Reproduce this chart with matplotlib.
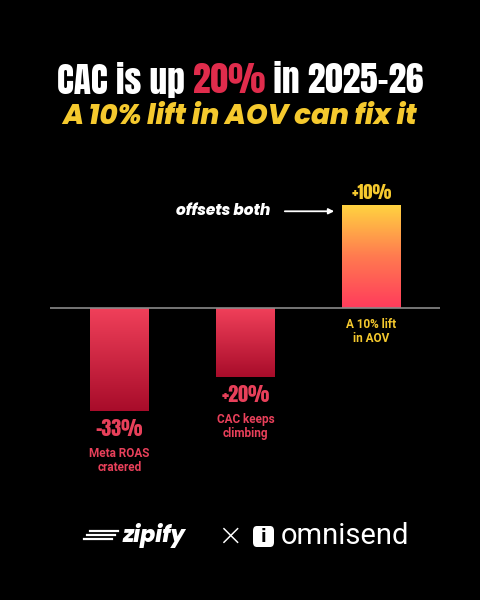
import numpy as np
import matplotlib
matplotlib.use("Agg")
import matplotlib.pyplot as plt
from matplotlib.patches import FancyBboxPatch
from matplotlib.colors import LinearSegmentedColormap
from matplotlib import font_manager
from matplotlib.font_manager import FontProperties

# ---- data ----
categories = ["Meta ROAS\ncratered", "CAC keeps\nclimbing", "A 10% lift\nin AOV"]
value_labels = ["-33%", "+20%", "+10%"]
bar_heights = [-33, -22, 33]   # drawn heights

BG = "black"
RED = "#E8405A"
YEL = "#F5C92E"

flist = font_manager.fontManager.ttflist
names = {f.name for f in flist}
def pick(*cands):
    for c in cands:
        if c in names:
            return c
    return "DejaVu Sans"

def heavy_italic(size):
    for cand in ["Montserrat", "Poppins", "Open Sans", "Lato", "Roboto"]:
        opts = [f for f in flist if f.name == cand and f.style == "italic"
                and (f.weight if isinstance(f.weight, int) else 400) >= 700]
        if opts:
            opts.sort(key=lambda f: abs((f.weight if isinstance(f.weight, int) else 400) - 800))
            return FontProperties(fname=opts[0].fname, size=size)
    return FontProperties(family="DejaVu Sans", weight="bold", style="italic", size=size)

cond = pick("Anton", "Oswald", "Bebas Neue", "Roboto Condensed", "DejaVu Sans")
body = pick("Roboto", "Inter")

fig = plt.figure(figsize=(4.8, 6), dpi=100, facecolor=BG)
ax = fig.add_axes([50/480, 1-480/600, 390/480, (480-170)/600])
ax.set_facecolor(BG)
x = np.arange(3) * 1.0
ppu = 3.12
XL = (-(119.5-50)/126, (440-119.5)/126)
YL = (-(480-308)/ppu, (308-170)/ppu)
for s in ax.spines.values():
    s.set_visible(False)
ax.set_xticks([]); ax.set_yticks([])

width = 0.468
cm_red = LinearSegmentedColormap.from_list("r", ["#A80C2A", "#F0405A"])
cm_up = LinearSegmentedColormap.from_list("u", ["#FF3B5C", "#FF7A50", "#FFD340"])
grads = [cm_red, cm_red, cm_up]
bars = ax.bar(x, bar_heights, width=width, color="none", edgecolor="none")
for b, cmap, h in zip(bars, grads, bar_heights):
    x0 = b.get_x(); w = b.get_width()
    y0, y1 = sorted([0, h])
    grad = np.linspace(0, 1, 256).reshape(-1, 1)
    im = ax.imshow(grad, extent=[x0, x0 + w, y0, y1], origin="lower",
                   cmap=cmap, aspect="auto", zorder=2)
    im.set_clip_path(b)
ax.set_xlim(*XL)
ax.set_ylim(*YL)

ax.axhline(0, color="#8a8a8a", lw=1.2, zorder=3)

lab_colors = [RED, RED, YEL]
for i, (h, vl, cat) in enumerate(zip(bar_heights, value_labels, categories)):
    c = lab_colors[i]
    if h < 0:
        ax.text(x[i], h - 2.6, vl, ha="center", va="top", color=c,
                fontsize=14.5, family=cond)
        ax.text(x[i], h - 11.5, cat, ha="center", va="top", color=c,
                fontsize=8.5, fontweight="bold", family=body, linespacing=1.1)
    else:
        ax.text(x[i], h + 1.3, vl, ha="center", va="bottom", color=c,
                fontsize=13, family=cond)
        ax.text(x[i], -3.3, cat, ha="center", va="top", color=c,
                fontsize=8.5, fontweight="bold", family=body, linespacing=1.1)

# annotation
ax.annotate("", xy=(x[2] - width/2 - 0.04, 31.0), xytext=(1.29, 31.0),
            arrowprops=dict(arrowstyle="-|>", color="white", lw=1.3,
                            mutation_scale=8), zorder=4)
ax.text(1.2, 31.0, "offsets both", ha="right", va="center", color="white",
        fontproperties=heavy_italic(11))

# title with colored middle segment
renderer = fig.canvas.get_renderer()
title_parts = [("CAC is up ", "white"), ("20%", "#E02C4C"), (" in 2025-26", "white")]
tmp = []
total = 0
for s, c in title_parts:
    t = fig.text(0, 1-80/600, s, color=c, fontsize=25.5, family=cond,
                 va="center", ha="left")
    bb = t.get_window_extent(renderer)
    tmp.append((t, bb.width))
    total += bb.width
start = (480 - total) / 2
for t, w in tmp:
    t.set_x(start / 480)
    start += w

fig.text(0.5, 1-118/600, "A 10% lift in AOV can fix it", ha="center", va="center",
         color=YEL, fontproperties=heavy_italic(20))

# logos
fig.text(185/480, 1-535/600, "zipify", ha="right", va="center", color="white",
         fontproperties=heavy_italic(16))
for yy, x0 in [(531, 90), (535, 87), (539, 84)]:
    fig.add_artist(plt.Line2D([x0/480, (x0+28)/480], [1-yy/600, 1-yy/600],
                              color="white", lw=1.6, transform=fig.transFigure))
fig.text(230/480, 1-536/600, "×", ha="center", va="center", color="white",
         fontsize=22, fontweight="light", family="DejaVu Sans")
icon = FancyBboxPatch((253/480, 1-547/600), 21/480, 21/600,
                      boxstyle="round,pad=0,rounding_size=0.008",
                      transform=fig.transFigure, facecolor="white", edgecolor="none")
fig.add_artist(icon)
fig.text(263.5/480, 1-536.5/600, "i", ha="center", va="center", color="black",
         fontsize=12, fontweight="bold", family="DejaVu Sans")
fig.text(281/480, 1-536/600, "omnisend", ha="left", va="center", color="white",
         fontsize=21, family=body)

fig.savefig("out.png", dpi=100, facecolor=BG)
